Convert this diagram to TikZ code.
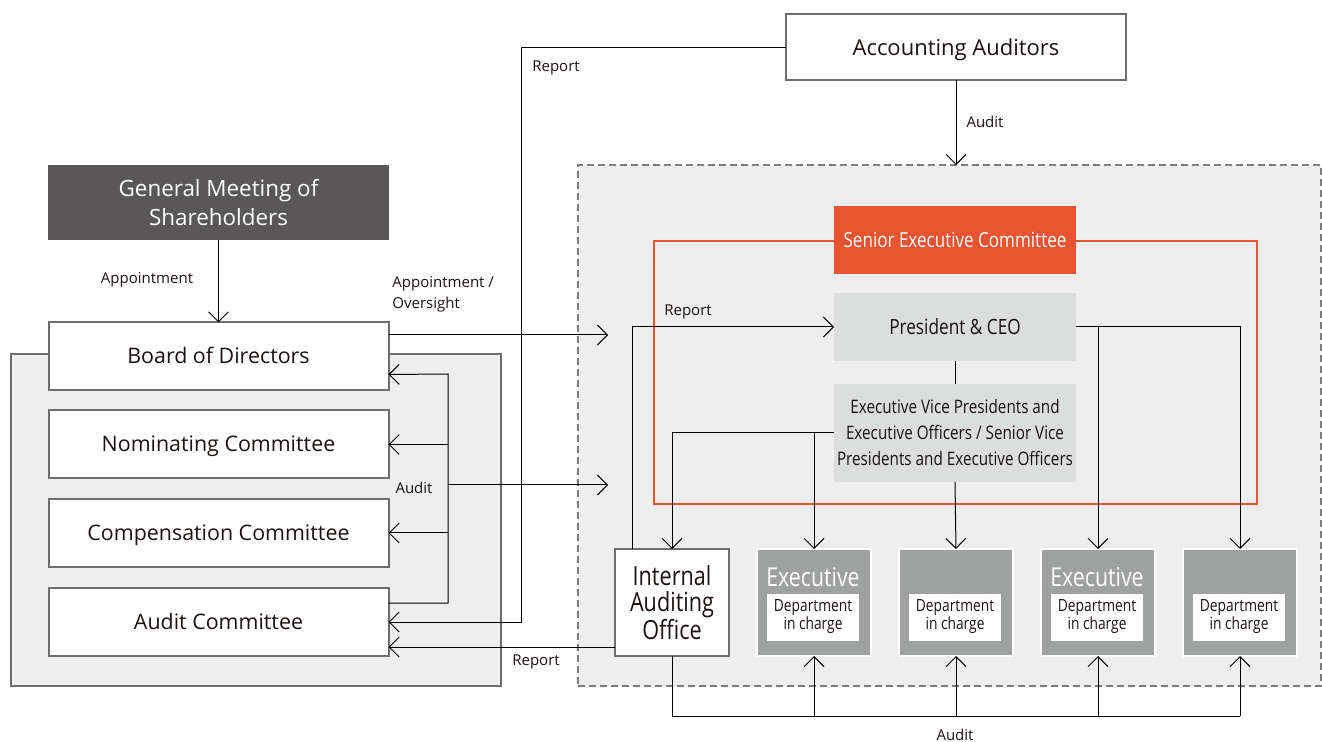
\documentclass[tikz,border=0pt]{standalone}
\usepackage{fontspec}
\setmainfont{Open Sans}
\newfontfamily\condfont[FakeStretch=0.82]{Open Sans}
\usepackage{tikz}
\usetikzlibrary{arrows.meta,positioning,calc}
\usepackage{xcolor}
\definecolor{panelgray}{HTML}{EEEEEE}
\definecolor{edgegray}{HTML}{6E6E6E}
\definecolor{darkgray}{HTML}{595757}
\definecolor{lightbox}{HTML}{DCDDDD}
\definecolor{execgray}{HTML}{9FA0A0}
\definecolor{seniororange}{HTML}{E85330}
\definecolor{inktext}{HTML}{1A1311}

\begin{document}
\begin{tikzpicture}[x=0.5pt, y=-0.5pt,
        box/.style={draw=edgegray, line width=1pt, fill=white, inner sep=0pt, outer sep=0pt, align=center, text=inktext, font=\fontsize{10.7}{14.5}\selectfont},
        wbox/.style={box, minimum width=170pt, minimum height=34pt, text depth=0.8pt},
        darkbox/.style={box, draw=none, fill=darkgray, text=white, font=\fontsize{11.2}{14.5}\selectfont},
        greybox/.style={box, draw=none, fill=lightbox, minimum width=121pt, font=\condfont\fontsize{10.5}{13}\selectfont},
        execbox/.style={box, draw=white, line width=1.2pt, fill=execgray, minimum width=57pt, minimum height=53.5pt},
        deptbox/.style={box, draw=none, minimum width=46pt, minimum height=23.5pt, font=\condfont\fontsize{8.4}{9}\selectfont},
        exectitle/.style={text=white, font=\condfont\fontsize{13}{13}\selectfont},
        panel/.style={draw=edgegray, line width=1pt, fill=panelgray, inner sep=0pt, outer sep=0pt},
        lbl/.style={text=inktext, font=\fontsize{7.5}{10.5}\selectfont, inner sep=0pt},
        arrow/.style={-{Straight Barb[length=5pt, width=10pt]}, line width=0.5pt}
    ]
        \useasboundingbox (0,0) rectangle (1322,742);

        % Containers
        \node[panel, draw=edgegray!90, dash pattern=on 3.5pt off 2pt, minimum width=371.5pt, minimum height=260.5pt] (area) at (949.5,425.5) {};
        \node[panel, minimum width=245pt, minimum height=166pt] (board) at (256,520) {};
        \node[draw=seniororange, line width=1pt, inner sep=0pt, outer sep=0pt, minimum width=301.5pt, minimum height=131.5pt] (sec) at (955.5,372.5) {};

        % Left side
        \node[darkbox, minimum width=170.5pt, minimum height=37.5pt] (gms) at (218.5,202.5) {General Meeting of\\Shareholders};
        \node[wbox] (bod) at (218.5,356.5) {Board of Directors};
        \node[wbox] (nom) at (218.5,444.5) {Nominating Committee};
        \node[wbox] (comp) at (218.5,533) {Compensation Committee};
        \node[wbox] (ac) at (218.5,622) {Audit Committee};

        % Top
        \node[box, minimum width=170pt, minimum height=33pt, text depth=0.8pt, font=\fontsize{11}{13}\selectfont] (aa) at (956,47.5) {Accounting Auditors};

        % Executive side
        \node[greybox, fill=seniororange, text=white, minimum height=34pt, font=\condfont\fontsize{10.4}{13}\selectfont] (sen) at (955,240) {Senior Executive Committee};
        \node[greybox, minimum height=34pt] (pres) at (955,327) {President \& CEO};
        \node[greybox, minimum height=49pt, font=\condfont\fontsize{9.3}{13}\selectfont] (evp) at (955,433) {Executive Vice Presidents and\\Executive Officers / Senior Vice\\Presidents and Executive Officers};
        \node[box, minimum width=57pt, minimum height=53.5pt, font=\condfont\fontsize{13.2}{13}\selectfont] (iao) at (672,602.5) {Internal\\Auditing\\Office};

        \node[execbox] (exec1) at (814,602.5) {};
        \node[execbox] (exec2) at (956,602.5) {};
        \node[execbox] (exec3) at (1098,602.5) {};
        \node[execbox] (exec4) at (1240,602.5) {};
        \node[deptbox] (dept1) at (813,617) {Department\\in charge};
        \node[deptbox] (dept2) at (955,617) {Department\\in charge};
        \node[deptbox] (dept3) at (1097,617) {Department\\in charge};
        \node[deptbox] (dept4) at (1239,617) {Department\\in charge};
        \node[exectitle] at (813,577) {Executive};
        \node[exectitle] at (1097,577) {Executive};

        % Free ends
        \coordinate (rpt) at (521,0);
        \coordinate (ovr) at (608,335);
        \coordinate (fan) at (448,485);
        \coordinate (audend) at (608,485);
        \coordinate (abot) at (0,716);

        % Arrows
        \draw[arrow] (aa.west) -| (rpt |- ac.east) -- (ac.east);
        \draw[arrow] (aa.south) -- (aa.south |- area.north);
        \draw[arrow] (gms.south) -- (bod.north);
        \draw[arrow] (ovr -| bod.east) -- (ovr);
        \draw[arrow] ($(ac.north east)+(0,15)$) -| (fan |- 0,374) -- ($(bod.south east)+(0,-16)$);
        \draw[arrow] (fan |- nom.east) -- (nom.east);
        \draw[arrow] (fan |- comp.east) -- (comp.east);
        \draw[arrow] (fan) -- (audend);
        \draw[arrow] (iao.west |- 0,647) -- (ac.east |- 0,647);
        \draw[arrow] ($(iao.north west)+(17,0)$) |- (pres.west);
        \draw (pres) -- (evp);
        \draw[arrow] (evp.west) -| (iao.north);
        \draw[arrow] (evp.west -| exec1.north) -- (exec1.north);
        \draw[arrow] (evp.south) -- (exec2.north);
        \draw[arrow] (pres.east) -| (exec4.north);
        \draw[arrow] (pres.east -| exec3.north) -- (exec3.north);
        \draw (iao.south) |- (abot -| exec4.south);
        \draw[arrow] (abot -| exec1.south) -- (exec1.south);
        \draw[arrow] (abot -| exec2.south) -- (exec2.south);
        \draw[arrow] (abot -| exec3.south) -- (exec3.south);
        \draw[arrow] (abot -| exec4.south) -- (exec4.south);

        % Labels
        \node[lbl] at (556,68) {Report};
        \node[lbl] at (985,122) {Audit};
        \node[lbl] at (147,280) {Appointment};
        \node[lbl, align=left, anchor=north west] at (392,276) {Appointment /\\Oversight};
        \node[lbl] at (414,488) {Audit};
        \node[lbl] at (536,662) {Report};
        \node[lbl] at (688,312) {Report};
        \node[lbl] at (955,735) {Audit};
    \end{tikzpicture}
\end{document}
